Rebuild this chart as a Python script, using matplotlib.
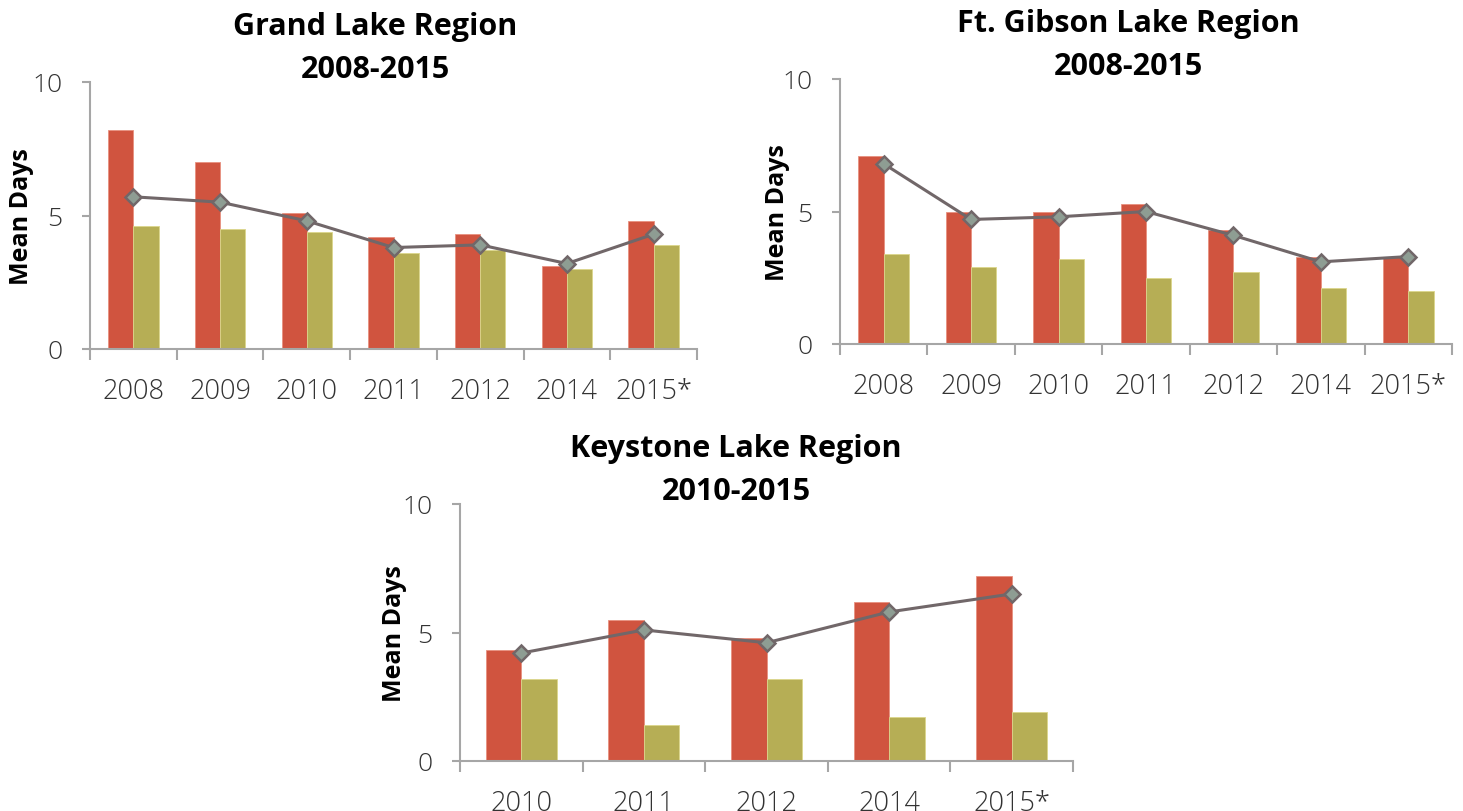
import numpy as np
import matplotlib
matplotlib.use("Agg")
from matplotlib import pyplot as plt

plt.rcParams['font.family'] = ['Open Sans', 'DejaVu Sans']

# Grand Lake
grand_years = ["2008", "2009", "2010", "2011", "2012", "2014", "2015*"]
grand_red = [8.2, 7.0, 5.1, 4.2, 4.3, 3.1, 4.8]
grand_green = [4.6, 4.5, 4.4, 3.6, 3.7, 3.0, 3.9]
grand_line = [5.7, 5.5, 4.8, 3.8, 3.9, 3.2, 4.3]

# Ft. Gibson
gibson_years = ["2008", "2009", "2010", "2011", "2012", "2014", "2015*"]
gibson_red = [7.1, 5.0, 5.0, 5.3, 4.3, 3.3, 3.3]
gibson_green = [3.4, 2.9, 3.2, 2.5, 2.7, 2.1, 2.0]
gibson_line = [6.8, 4.7, 4.8, 5.0, 4.1, 3.1, 3.3]

# Keystone
key_years = ["2010", "2011", "2012", "2014", "2015*"]
key_red = [4.3, 5.5, 4.8, 6.2, 7.2]
key_green = [3.2, 1.4, 3.2, 1.7, 1.9]
key_line = [4.2, 5.1, 4.6, 5.8, 6.5]

W, H = 1463, 812
RED = "#d0543f"
GREEN = "#b6ae55"
LINE = "#716769"
MARK = "#8e9d93"
AX = "#a6a6a6"

fig = plt.figure(figsize=(W / 100, H / 100), dpi=100)


def panel(x0, x1, ytop, ybot, years, red, green, line, t1, t2, tx, ylab_x):
    ax = fig.add_axes([x0 / W, 1 - ybot / H, (x1 - x0) / W, (ybot - ytop) / H])
    n = len(years)
    x = np.arange(n)
    bw = 0.29
    ax.bar(x - bw / 2, red, bw, color=RED, edgecolor="#e8917f", linewidth=0.6, zorder=2)
    ax.bar(x + bw / 2, green, bw, color=GREEN, edgecolor="#dcd68c", linewidth=0.6, zorder=2)
    ax.plot(x, line, color=LINE, lw=2.2, marker="D", ms=8, mfc=MARK, mec=LINE, mew=1.8, zorder=3)
    ax.set_xlim(-0.5, n - 0.5)
    ax.set_ylim(0, 10)
    ax.set_yticks([0, 5, 10])
    ax.set_yticklabels(["0", "5", "10"], fontsize=19, fontweight="light", color="#333333")
    ax.set_xticks(np.arange(n + 1) - 0.5)
    ax.set_xticklabels([])
    ax.set_xticks(x, minor=True)
    ax.set_xticklabels(years, minor=True, fontsize=19.5, fontweight="light", color="#333333")
    ax.tick_params(axis="x", which="major", length=8, width=1.5, color=AX, direction="out")
    ax.tick_params(axis="x", which="minor", length=0, pad=20)
    ax.tick_params(axis="y", length=6, width=1.5, color=AX, pad=14)
    for s in ["top", "right"]:
        ax.spines[s].set_visible(False)
    for s in ["left", "bottom"]:
        ax.spines[s].set_color(AX)
        ax.spines[s].set_linewidth(1.5)
    fig.text(tx / W, 1 - 27 / H - (ytop - 83) / H, t1, ha="center", va="center",
             fontsize=22, fontweight="bold")
    fig.text(tx / W, 1 - 70 / H - (ytop - 83) / H, t2, ha="center", va="center",
             fontsize=22, fontweight="bold")
    fig.text(ylab_x / W, 1 - (ytop + ybot) / 2 / H, "Mean Days", rotation=90,
             ha="center", va="center", fontsize=18, fontweight="bold")
    return ax


panel(90, 697, 83, 350, grand_years, grand_red, grand_green, grand_line,
      "Grand Lake Region", "2008-2015", 375, 21)
panel(840, 1452, 80, 345, gibson_years, gibson_red, gibson_green, gibson_line,
      "Ft. Gibson Lake Region", "2008-2015", 1128, 777)
panel(460, 1073, 505, 762, key_years, key_red, key_green, key_line,
      "Keystone Lake Region", "2010-2015", 736, 394)

fig.savefig("out.png", dpi=100)
